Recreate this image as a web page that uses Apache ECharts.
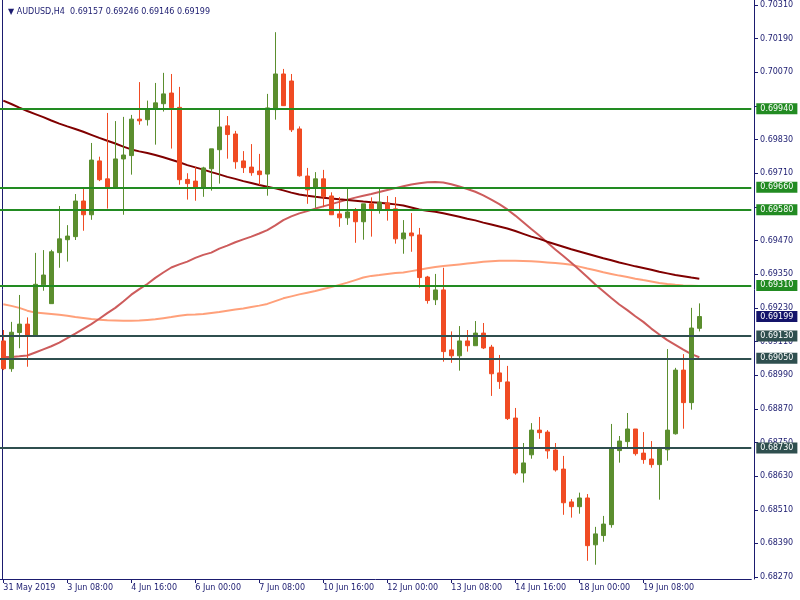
<!DOCTYPE html>
<html><head><meta charset="utf-8">
<script src="https://cdn.jsdelivr.net/npm/echarts@6/dist/echarts.min.js"></script>
<style>html,body{margin:0;padding:0;background:#fff}#c{width:800px;height:600px}</style>
</head><body><div id="c"></div>
<script>
const symbol = 'AUDUSD,H4';
const xTickLabels = ['31 May 2019','3 Jun 08:00','4 Jun 16:00','6 Jun 00:00','7 Jun 08:00','10 Jun 16:00','12 Jun 00:00','13 Jun 08:00','14 Jun 16:00','18 Jun 00:00','19 Jun 08:00'];
const yTicks = [0.68270,0.68390,0.68510,0.68630,0.68750,0.68870,0.68990,0.69110,0.69230,0.69350,0.69470,0.69590,0.69710,0.69830,0.69950,0.70070,0.70190,0.70310];
const greenLevels = [0.69940,0.69660,0.69580,0.69310];
const slateLevels = [0.69130,0.69050,0.68730];

const open = [
0.69112,0.69013,0.69142,0.69172,0.69131,0.69312,0.69245,0.69427,0.69473,0.69484,
0.69611,0.69562,0.69754,0.69690,0.69656,0.69761,0.69773,0.69903,0.69901,0.69938,
0.69958,0.69996,0.69945,0.69688,0.69682,0.69660,0.69726,0.69794,0.69879,0.69850,
0.69754,0.69732,0.69718,0.69707,0.69937,0.70064,0.70039,0.69868,0.69700,0.69656,
0.69690,0.69629,0.69565,0.69551,0.69576,0.69537,0.69601,0.69581,0.69604,0.69583,
0.69476,0.69497,0.69490,0.69340,0.69259,0.69294,0.69080,0.69059,0.69112,0.69095,
0.69140,0.69090,0.68998,0.68966,0.68837,0.68641,0.68706,0.68794,0.68787,0.68723,
0.68655,0.68538,0.68521,0.68552,0.68385,0.68418,0.68457,0.68721,0.68753,0.68798,
0.68712,0.68691,0.68671,0.68724,0.68781,0.69008,0.68892,0.69157];
const high = [
0.69151,0.69180,0.69276,0.69196,0.69426,0.69436,0.69437,0.69593,0.69525,0.69636,
0.69656,0.69818,0.69769,0.69925,0.69896,0.69911,0.69918,0.70035,0.69969,0.70032,
0.70068,0.70064,0.70018,0.69710,0.69732,0.69733,0.69797,0.69937,0.69914,0.69861,
0.69789,0.69814,0.69779,0.69993,0.70213,0.70082,0.70064,0.69877,0.69729,0.69714,
0.69722,0.69642,0.69625,0.69658,0.69586,0.69601,0.69624,0.69656,0.69629,0.69625,
0.69543,0.69568,0.69515,0.69344,0.69351,0.69373,0.69146,0.69165,0.69151,0.69183,
0.69176,0.69098,0.69062,0.69023,0.68873,0.68748,0.68819,0.68841,0.68794,0.68748,
0.68702,0.68548,0.68571,0.68566,0.68449,0.68488,0.68816,0.68773,0.68855,0.68798,
0.68787,0.68755,0.68734,0.69083,0.69016,0.69065,0.69230,0.69246];
const low = [
0.69008,0.69002,0.69086,0.69020,0.69130,0.69291,0.69245,0.69373,0.69395,0.69472,
0.69505,0.69544,0.69682,0.69584,0.69656,0.69562,0.69705,0.69883,0.69880,0.69812,
0.69930,0.69798,0.69669,0.69616,0.69612,0.69626,0.69648,0.69673,0.69762,0.69726,
0.69711,0.69701,0.69668,0.69630,0.69901,0.69950,0.69857,0.69698,0.69601,0.69587,
0.69589,0.69561,0.69519,0.69526,0.69462,0.69473,0.69484,0.69566,0.69541,0.69459,
0.69423,0.69430,0.69302,0.69245,0.69240,0.69038,0.69034,0.69006,0.69074,0.69095,
0.69083,0.68916,0.68941,0.68830,0.68635,0.68607,0.68692,0.68763,0.68692,0.68646,
0.68492,0.68482,0.68496,0.68328,0.68314,0.68396,0.68446,0.68678,0.68728,0.68703,
0.68674,0.68660,0.68546,0.68685,0.68778,0.68799,0.68867,0.69146];
const close = [
0.69013,0.69143,0.69172,0.69131,0.69314,0.69347,0.69430,0.69476,0.69486,0.69611,
0.69562,0.69757,0.69687,0.69656,0.69761,0.69775,0.69903,0.69897,0.69938,0.69961,
0.69993,0.69944,0.69687,0.69673,0.69660,0.69729,0.69797,0.69875,0.69848,0.69751,
0.69730,0.69712,0.69705,0.69943,0.70064,0.69951,0.69865,0.69701,0.69651,0.69690,
0.69626,0.69562,0.69551,0.69572,0.69537,0.69601,0.69583,0.69607,0.69579,0.69476,
0.69497,0.69487,0.69338,0.69256,0.69294,0.69074,0.69059,0.69112,0.69095,0.69140,
0.69087,0.68995,0.68967,0.68835,0.68641,0.68677,0.68794,0.68785,0.68720,0.68652,
0.68535,0.68521,0.68552,0.68382,0.68424,0.68459,0.68727,0.68755,0.68798,0.68710,
0.68689,0.68671,0.68727,0.68794,0.69008,0.68892,0.69158,0.69199];

const maMaroon = [
0.69969,0.69957,0.69944,0.69932,0.69921,0.69910,0.69898,0.69887,0.69877,0.69868,
0.69858,0.69847,0.69836,0.69826,0.69816,0.69805,0.69795,0.69788,0.69782,0.69775,
0.69767,0.69758,0.69749,0.69739,0.69731,0.69723,0.69714,0.69706,0.69697,0.69690,
0.69682,0.69675,0.69668,0.69662,0.69656,0.69649,0.69641,0.69634,0.69630,0.69626,
0.69623,0.69620,0.69617,0.69615,0.69612,0.69609,0.69607,0.69605,0.69602,0.69599,
0.69595,0.69588,0.69581,0.69576,0.69573,0.69567,0.69561,0.69555,0.69548,0.69542,
0.69534,0.69527,0.69520,0.69513,0.69504,0.69494,0.69484,0.69476,0.69466,0.69457,
0.69448,0.69439,0.69431,0.69423,0.69415,0.69407,0.69400,0.69392,0.69385,0.69378,
0.69372,0.69366,0.69359,0.69353,0.69347,0.69343,0.69338,0.69334];
const maIndianRed = [
0.69055,0.69055,0.69057,0.69060,0.69071,0.69082,0.69093,0.69106,0.69122,0.69138,
0.69155,0.69172,0.69191,0.69211,0.69230,0.69253,0.69277,0.69297,0.69315,0.69337,
0.69356,0.69374,0.69385,0.69395,0.69408,0.69419,0.69427,0.69441,0.69452,0.69464,
0.69474,0.69484,0.69495,0.69507,0.69524,0.69543,0.69556,0.69567,0.69575,0.69584,
0.69592,0.69600,0.69608,0.69616,0.69623,0.69630,0.69636,0.69643,0.69650,0.69657,
0.69664,0.69670,0.69674,0.69678,0.69679,0.69677,0.69671,0.69663,0.69654,0.69644,
0.69631,0.69616,0.69600,0.69581,0.69559,0.69535,0.69511,0.69488,0.69463,0.69438,
0.69415,0.69391,0.69366,0.69340,0.69313,0.69289,0.69265,0.69242,0.69222,0.69200,
0.69180,0.69156,0.69135,0.69115,0.69098,0.69081,0.69065,0.69054];
const maSalmon = [
0.69243,0.69237,0.69230,0.69220,0.69213,0.69211,0.69208,0.69205,0.69202,0.69197,
0.69194,0.69190,0.69188,0.69186,0.69185,0.69184,0.69184,0.69185,0.69187,0.69189,
0.69193,0.69197,0.69202,0.69205,0.69206,0.69208,0.69212,0.69215,0.69220,0.69224,
0.69228,0.69233,0.69238,0.69244,0.69254,0.69264,0.69271,0.69278,0.69284,0.69290,
0.69297,0.69304,0.69312,0.69320,0.69329,0.69338,0.69344,0.69347,0.69351,0.69354,
0.69356,0.69361,0.69366,0.69371,0.69376,0.69379,0.69382,0.69385,0.69388,0.69391,
0.69394,0.69396,0.69398,0.69398,0.69398,0.69397,0.69396,0.69394,0.69392,0.69390,
0.69387,0.69384,0.69377,0.69370,0.69364,0.69357,0.69351,0.69345,0.69340,0.69334,
0.69329,0.69324,0.69319,0.69315,0.69312,0.69310,0.69309,0.69308];

const slotCount = 94;
const n = open.length;
const categories = Array.from({length: slotCount}, (_, i) => String(i));
const candles = open.map((o, i) => [o, close[i], low[i], high[i]]);
const last = n - 1;
const fmt = v => Number(v).toFixed(5);
const titleText = '\u25BC ' + symbol + '  ' + [open[last], high[last], low[last], close[last]].map(fmt).join(' ');
const allLevels = greenLevels.concat(slateLevels, [close[last]]);
// MT4 hides an axis price that is covered by a level box
const tickText = v => allLevels.some(l => Math.abs(l - v) < 0.00012) ? '' : fmt(v);

const FONT = 'DejaVu Sans';
const NAVY = '#1b1b6f';
const GREEN = '#228B22';
const SLATE = '#2F4F4F';
const UP = '#5B8E2E';
const DOWN = '#F04B23';
const yMin = 0.682631, yMax = 0.703278;
const showTick = i => i % 8 === 0 && i / 8 < xTickLabels.length;

const levelLines = [
  ...greenLevels.map(v => ({yAxis: v, lineStyle: {color: GREEN, width: 2, type: 'solid'}, label: {backgroundColor: GREEN}})),
  ...slateLevels.map(v => ({yAxis: v, lineStyle: {color: SLATE, width: 2, type: 'solid'}, label: {backgroundColor: SLATE}})),
  {yAxis: close[last], lineStyle: {color: 'rgba(255,255,255,0)', width: 1, type: 'solid'}, label: {backgroundColor: '#14146a'}}
];

const chart = echarts.init(document.getElementById('c'), null, {renderer: 'canvas'});
chart.setOption({
  animation: false,
  backgroundColor: '#ffffff',
  title: {text: titleText, left: 3, top: 3, textStyle: {fontFamily: FONT, fontSize: 8, fontWeight: 'normal', color: NAVY}},
  grid: {left: -0.7, top: 0, width: 752, bottom: 21, containLabel: false, outerBoundsMode: 'none'},
  xAxis: {
    type: 'category', data: categories, boundaryGap: true,
    axisLine: {show: true, lineStyle: {color: NAVY, width: 1}},
    axisTick: {show: true, alignWithLabel: true, length: 4, interval: showTick, lineStyle: {color: NAVY}},
    axisLabel: {interval: showTick, formatter: (v, i) => xTickLabels[i / 8] || '', align: 'left', margin: 5,
      color: NAVY, fontFamily: FONT, fontSize: 8},
    splitLine: {show: false}
  },
  yAxis: [{
    type: 'value', position: 'right', offset: 2.7, min: yMin, max: yMax,
    axisLine: {show: true, lineStyle: {color: NAVY, width: 1}},
    axisTick: {show: true, length: 4, customValues: yTicks, lineStyle: {color: NAVY}},
    axisLabel: {customValues: yTicks, formatter: tickText, margin: 6, color: NAVY, fontFamily: FONT, fontSize: 8},
    splitLine: {show: false}
  }, {
    type: 'value', position: 'left', offset: -3, min: yMin, max: yMax,
    axisLine: {show: true, lineStyle: {color: NAVY, width: 1}},
    axisTick: {show: false}, axisLabel: {show: false}, splitLine: {show: false}
  }],
  series: [
    {type: 'line', data: maSalmon, symbol: 'none', showSymbol: false, lineStyle: {color: '#FFA07A', width: 2}, silent: true, z: 1},
    {type: 'line', data: maIndianRed, symbol: 'none', showSymbol: false, lineStyle: {color: '#CD5C5C', width: 2}, silent: true, z: 1},
    {type: 'line', data: maMaroon, symbol: 'none', showSymbol: false, lineStyle: {color: '#800000', width: 2}, silent: true, z: 1},
    {type: 'line', data: [], silent: true, z: 2,
      markLine: {symbol: ['none', 'none'], silent: true, animation: false, precision: 5,
        label: {show: true, position: 'end', distance: 5, formatter: p => fmt(p.value), color: '#ffffff',
          fontFamily: FONT, fontSize: 8, padding: [2, 4, 1, 4]},
        data: levelLines}},
    {type: 'candlestick', data: candles, barWidth: 4, z: 3,
      itemStyle: {color: UP, color0: DOWN, borderColor: UP, borderColor0: DOWN, borderWidth: 1}}
  ]
});
</script>
</body></html>
